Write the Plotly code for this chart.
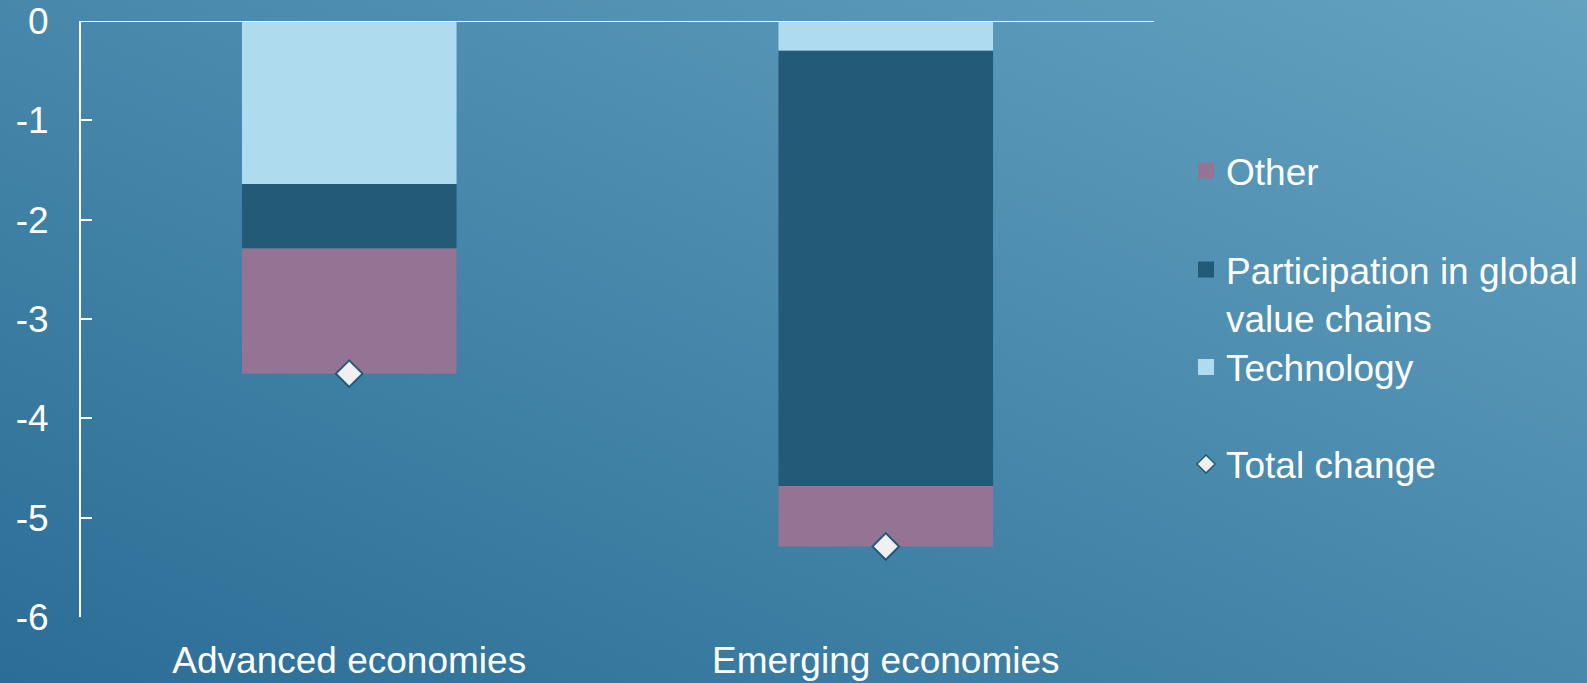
import base64
import plotly.graph_objects as go

categories = ["Advanced economies", "Emerging economies"]
technology = [-1.64, -0.30]
participation = [-0.65, -4.38]
other = [-1.26, -0.61]
total_change = [-3.55, -5.29]
y_ticks = [0, -1, -2, -3, -4, -5, -6]
y_tick_text = ["0", "-1", "-2", "-3", "-4", "-5", "-6"]

C_TECH = "#aedcee"
C_PART = "#225a78"
C_OTHER = "#957394"
FONT = "Liberation Sans, Arial, sans-serif"
FS = 37

W, H = 1587, 683
ML, MR, MT, MB = 81, 433, 21, 66
pw, ph = W - ML - MR, H - MT - MB


def py(pix):
    return (H - MB - pix) / ph


fig = go.Figure()
for name, vals, col in [("Technology", technology, C_TECH),
                        ("Participation in global value chains", participation, C_PART),
                        ("Other", other, C_OTHER)]:
    fig.add_trace(go.Bar(x=categories, y=vals, name=name, marker=dict(color=col, line=dict(width=0)),
                         width=0.4, showlegend=False))
fig.add_trace(go.Scatter(x=categories, y=total_change, mode="markers", name="Total change",
                         marker=dict(symbol="diamond", size=20.5, color="#f0f0f0",
                                     line=dict(color=C_PART, width=2)), showlegend=False))

# legend entries, each in its own legend box so positions match the original
legend_items = [("Other", "square", C_OTHER, "legend", 171),
                ("Participation in global<br>value chains", "square", C_PART, "legend2", 270 + 24),
                ("Technology", "square", C_TECH, "legend3", 367.5),
                ("Total change", "diamond", "#f0f0f0", "legend4", 464.5)]
legend_layout = {}
for name, sym, col, lg, ypix in legend_items:
    fig.add_trace(go.Scatter(x=[None], y=[None], mode="markers", name=name, legend=lg,
                             marker=dict(symbol=sym, size=18 if sym == "square" else 14, color=col,
                                         line=dict(color=C_PART, width=1.5 if sym == "diamond" else 0))))
    legend_layout[lg] = dict(x=(1186 - ML) / pw, y=py(ypix), xanchor="left", yanchor="middle",
                             valign="top", font=dict(size=FS, color="white", family=FONT),
                             bgcolor="rgba(0,0,0,0)", itemwidth=30)

svg = ('<svg xmlns="http://www.w3.org/2000/svg" width="1587" height="683">'
       '<defs><linearGradient id="g" x1="0" y1="1" x2="1" y2="0">'
       '<stop offset="0" stop-color="#2b6d96"/><stop offset="1" stop-color="#64a2c0"/>'
       '</linearGradient></defs><rect width="1587" height="683" fill="url(#g)"/></svg>')
src = "data:image/svg+xml;base64," + base64.b64encode(svg.encode()).decode()
fig.add_layout_image(dict(source=src, xref="paper", yref="paper",
                          x=-ML / pw, y=1 + MT / ph, sizex=W / pw, sizey=H / ph,
                          xanchor="left", yanchor="top", sizing="stretch", layer="below"))

fig.add_shape(type="line", xref="paper", yref="y", x0=0, x1=1, y0=0, y1=0,
              line=dict(color="white", width=2))

fig.update_layout(
    width=W, height=H, margin=dict(l=ML, r=MR, t=MT, b=MB, autoexpand=False),
    paper_bgcolor="#4585aa", plot_bgcolor="rgba(0,0,0,0)",
    barmode="relative", font=dict(family=FONT, size=FS, color="white"),
    xaxis=dict(range=[-0.5, 1.5], showgrid=False, showline=False, zeroline=False, automargin=False,
               ticks="", tickfont=dict(size=FS), ticklabelstandoff=18),
    yaxis=dict(range=[-6, 0], tickvals=y_ticks, ticktext=y_tick_text, showgrid=False, zeroline=False,
               automargin=False, showline=True, linecolor="white", linewidth=2, ticks="inside",
               ticklen=11, tickcolor="white", tickwidth=2, tickfont=dict(size=FS),
               ticklabelstandoff=23),
    **legend_layout,
)
fig.write_html("out.html", config={"displayModeBar": False},
               post_script="document.body.style.margin='0';")
